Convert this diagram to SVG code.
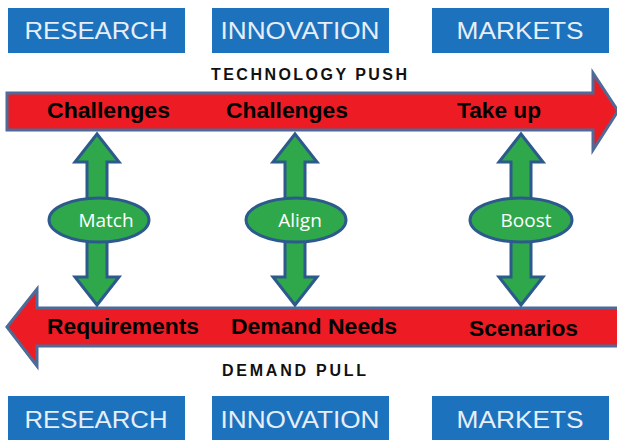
<svg xmlns="http://www.w3.org/2000/svg" xmlns:xlink="http://www.w3.org/1999/xlink" width="617" height="440" viewBox="0 0 617 440">
<style>
.box{fill:#1d72be;}
.boxt{font-family:"Liberation Sans",Arial,sans-serif;font-size:24px;fill:#e6eef8;text-anchor:middle;}
.red{fill:#ed1c24;stroke:#4d6b98;stroke-width:3;stroke-linejoin:miter;}
.rt{font-family:"Liberation Sans",Arial,sans-serif;font-size:22px;font-weight:bold;fill:#000;}
.lab{font-family:"Liberation Sans",Arial,sans-serif;font-size:16px;font-weight:bold;fill:#111;}
.grn{fill:#2ea84a;stroke:#2d5a8c;stroke-width:3;stroke-linejoin:miter;}
.et{font-family:"Open Sans","Noto Sans",sans-serif;font-size:19px;fill:#fff;text-anchor:middle;}
</style>
<defs>
<path id="darrow" d="M0,134 L22,162 L10,162 L10,277 L22,277 L0,305 L-22,277 L-10,277 L-10,162 L-22,162 Z"/>
</defs>
<rect width="617" height="440" fill="#fff"/>
<g id="top-research"><rect class="box" x="8" y="8" width="177" height="45"/><text class="boxt" x="96" y="39" textLength="143" lengthAdjust="spacingAndGlyphs">RESEARCH</text></g>
<g id="top-innovation"><rect class="box" x="212" y="8" width="177" height="45"/><text class="boxt" x="300" y="39" textLength="159" lengthAdjust="spacingAndGlyphs">INNOVATION</text></g>
<g id="top-markets"><rect class="box" x="432" y="8" width="177" height="45"/><text class="boxt" x="520" y="39" textLength="127" lengthAdjust="spacingAndGlyphs">MARKETS</text></g>
<g id="tech-push-label"><text class="lab" x="211" y="80" textLength="196" lengthAdjust="spacing">TECHNOLOGY PUSH</text></g>
<g id="tech-push-arrow"><path class="red" d="M7,93 L593,93 L593,73 L618,111 L593,150 L593,130 L7,130 Z"/>
<text class="rt" x="47" y="118" textLength="123" lengthAdjust="spacingAndGlyphs">Challenges</text>
<text class="rt" x="226" y="118" textLength="122" lengthAdjust="spacingAndGlyphs">Challenges</text>
<text class="rt" x="457" y="118" textLength="84" lengthAdjust="spacingAndGlyphs">Take up</text></g>
<g id="demand-pull-arrow"><path class="red" d="M7,327 L37,289 L37,308 L620,308 L620,346 L37,346 L37,366 Z"/>
<text class="rt" x="47" y="334" textLength="152" lengthAdjust="spacingAndGlyphs">Requirements</text>
<text class="rt" x="231" y="334" textLength="166" lengthAdjust="spacingAndGlyphs">Demand Needs</text>
<text class="rt" x="469" y="336" textLength="109" lengthAdjust="spacingAndGlyphs">Scenarios</text></g>
<g id="demand-pull-label"><text class="lab" x="222" y="376" textLength="144" lengthAdjust="spacing">DEMAND PULL</text></g>
<g id="connectors">
<use xlink:href="#darrow" class="grn" transform="translate(97,0)"/>
<use xlink:href="#darrow" class="grn" transform="translate(295,0)"/>
<use xlink:href="#darrow" class="grn" transform="translate(521,0)"/>
</g>
<g id="match"><ellipse class="grn" cx="99" cy="220" rx="50" ry="22"/><text class="et" x="106" y="227">Match</text></g>
<g id="align"><ellipse class="grn" cx="296" cy="220" rx="50" ry="22"/><text class="et" x="300" y="227">Align</text></g>
<g id="boost"><ellipse class="grn" cx="521" cy="220" rx="51" ry="22"/><text class="et" x="526" y="227">Boost</text></g>
<g id="bottom-research"><rect class="box" x="8" y="396" width="177" height="50"/><text class="boxt" x="96" y="428" textLength="143" lengthAdjust="spacingAndGlyphs">RESEARCH</text></g>
<g id="bottom-innovation"><rect class="box" x="212" y="396" width="177" height="50"/><text class="boxt" x="300" y="428" textLength="159" lengthAdjust="spacingAndGlyphs">INNOVATION</text></g>
<g id="bottom-markets"><rect class="box" x="432" y="396" width="177" height="50"/><text class="boxt" x="520" y="428" textLength="127" lengthAdjust="spacingAndGlyphs">MARKETS</text></g>
</svg>
